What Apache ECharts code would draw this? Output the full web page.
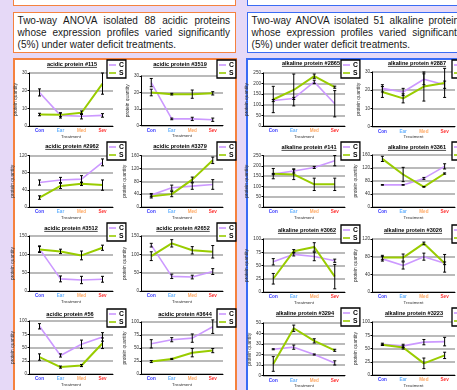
<!DOCTYPE html>
<html>
<head>
<meta charset="utf-8">
<script src="https://cdn.jsdelivr.net/npm/echarts@6/dist/echarts.min.js"></script>
<style>
  html, body { margin: 0; padding: 0; }
  body {
    width: 457px; height: 390px; overflow: hidden; position: relative;
    background: #e6d9f7; font-family: 'Liberation Sans', Arial, sans-serif;
  }
  .box { position: absolute; box-sizing: border-box; background: #fff; }
  .orange { border: 1.5px solid #f5823f; }
  .blue { border: 1.5px solid #3a6cf4; }
  .txt { top: 12px; height: 41px; width: 223px; padding: 2.4px 5px 0 3.6px; font-size: 10px; line-height: 11.6px; color: #1a1a1a; }
  .txt div { text-align: justify; text-align-last: justify; white-space: nowrap; }
  .txt div.last { text-align-last: left; }
  .panel { top: 58px; height: 360px; border-width: 2px; }
  #chart { position: absolute; left: 0; top: 0; width: 457px; height: 390px; }
</style>
</head>
<body>
<div class="box orange" style="left:13px; top:-12px; width:223px; height:18px;"></div>
<div class="box blue" style="left:247px; top:-12px; width:226px; height:18px;"></div>
<div class="box orange txt" style="left:13px;">
  <div>Two-way ANOVA isolated 88 acidic proteins</div>
  <div>whose expression profiles varied significantly</div>
  <div class="last">(5%) under water deficit treatments.</div>
</div>
<div class="box blue txt" style="left:247px;">
  <div>Two-way ANOVA isolated 51 alkaline proteins</div>
  <div>whose expression profiles varied significantly</div>
  <div class="last">(5%) under water deficit treatments.</div>
</div>
<div class="box orange panel" style="left:13px; width:224px;"></div>
<div class="box blue panel" style="left:246px; width:230px;"></div>
<div id="chart"></div>
<script>
// --- data ---
const categories = ['Con', 'Ear', 'Med', 'Sev'];
const categoryColors = ['#3333ff', '#66b2ff', '#ffaa66', '#ff3333'];
const seriesNames = ['C', 'S'];

const titles = [
  'acidic protein #115', 'acidic protein #3519',
  'acidic protein #2962', 'acidic protein #3379',
  'acidic protein #3512', 'acidic protein #2652',
  'acidic protein #56', 'acidic protein #3644',
  'alkaline protein #2865', 'alkaline protein #2887',
  'alkaline protein #141', 'alkaline protein #3361',
  'alkaline protein #3062', 'alkaline protein #3026',
  'alkaline protein #3294', 'alkaline protein #3223'
];

const yMax  = [30, 30, 120, 160, 150, 150, 100, 100, 250, 30, 250, 160, 100, 120, 50, 100];
const yStep = [10, 10, 40, 40, 50, 50, 25, 25, 50, 10, 50, 40, 25, 40, 10, 25];

const cValues = [
  [19, 6, 5.5, 6], [26, 4, 4, 3.5],
  [57, 63, 65, 104], [37, 60, 65, 70],
  [115, 33, 30, 32], [125, 40, 38, 53],
  [90, 35, 56, 70], [58, 66, 69, 91],
  [120, 130, 208, 105], [21, 19, 26, 23],
  [160, 175, 192, 225], [68, 68, 88, 125],
  [57, 71, 67, 59], [75, 60, 80, 65],
  [25, 27, 20, 12], [58, 55, 62, 63]
];
const sValues = [
  [6.5, 6.3, 7.5, 24], [20, 19, 19, 19.5],
  [22, 49, 54, 51], [33, 40, 85, 145],
  [113, 108, 97, 118], [95, 130, 111, 107],
  [32, 13, 16, 58], [24, 29, 41, 45],
  [125, 170, 235, 183], [19, 15.5, 22, 24],
  [162, 158, 110, 110], [148, 100, 62, 103],
  [25, 77, 85, 29], [78, 78, 110, 65],
  [11, 45, 33, 24], [57, 52, 22, 37]
];
const cErrors = [
  [2, 1.5, 1.5, 1], [2.5, 0.5, 1, 1],
  [6, 6, 8, 8], [5, 8, 10, 15],
  [8, 8, 10, 8], [5, 6, 5, 8],
  [5, 3, 8, 8], [8, 4, 8, 13],
  [5, 5, 8, 62], [2, 2, 3, 2],
  [3, 10, 5, 25], [1, 1, 3, 8],
  [6, 3, 8, 3], [5, 8, 8, 20],
  [0.5, 2, 0.5, 2], [2, 3, 5, 8]
];
const sErrors = [
  [0.7, 1, 1, 6], [2, 0.5, 2.5, 1],
  [4, 6, 4, 12], [5, 8, 8, 10],
  [8, 6, 12, 7], [12, 10, 10, 17],
  [6, 2, 2, 10], [2, 1, 8, 4],
  [62, 75, 10, 5], [3, 2.5, 8, 8],
  [25, 25, 30, 30], [8, 22, 1, 2],
  [10, 3, 8, 23], [5, 8, 3, 3],
  [7, 3, 2, 1], [1, 3, 10, 6]
];

// --- layout (page pixels) ---
const plotCols = [[29, 113], [141, 223], [263, 345], [372, 455]];
const plotTop    = [73, 76, 155.5, 155.5, 236, 236, 321, 322, 73, 72, 155.5, 155, 239, 239, 323, 322];
const plotBottom = [126, 125.5, 207, 207, 291, 291, 374, 374, 126, 126.5, 207, 207, 292, 292, 375.5, 375];
const titleX = [72, 180, 72, 180, 71, 183, 70, 185, 311, 417, 309, 417, 307, 413, 305, 414];
const titleY = [64, 64, 146, 146, 228, 228, 314, 314, 63, 63, 147, 147, 230, 230, 313, 313];
const legendX = [107, 217, 341, 452];
const legendY = [[60, 142, 223, 309], [60, 142, 225, 308]];

const FONT = 'Liberation Sans';
const lineColors = { C: '#cc99ff', S: '#99cc00' };

const chart = echarts.init(document.getElementById('chart'));
const ctx = document.createElement('canvas').getContext('2d');
ctx.font = 'bold 5.6px "' + FONT + '"';

const grids = [], xAxes = [], yAxes = [], series = [], legends = [], graphics = [];

function errorBars(values, errors) {
  return values.map((v, i) => [i, v - errors[i], v + errors[i]]);
}

function renderError(params, api) {
  const lo = api.coord([api.value(0), api.value(1)]);
  const hi = api.coord([api.value(0), api.value(2)]);
  const st = { stroke: '#000', lineWidth: 1 };
  return {
    type: 'group',
    children: [
      { type: 'line', shape: { x1: lo[0], y1: lo[1], x2: hi[0], y2: hi[1] }, style: st },
      { type: 'line', shape: { x1: lo[0] - 1.5, y1: lo[1], x2: lo[0] + 1.5, y2: lo[1] }, style: st },
      { type: 'line', shape: { x1: hi[0] - 1.5, y1: hi[1], x2: hi[0] + 1.5, y2: hi[1] }, style: st }
    ]
  };
}

for (let k = 0; k < 16; k++) {
  const panel = k < 8 ? 0 : 1;
  const col = k % 2;
  const row = Math.floor((k % 8) / 2);
  const [L, R] = plotCols[panel * 2 + col];

  grids.push({ left: L, top: plotTop[k], width: R - L, height: plotBottom[k] - plotTop[k] });

  xAxes.push({
    gridIndex: k,
    type: 'category',
    data: categories,
    boundaryGap: true,
    axisLine: { lineStyle: { color: '#000', width: 1 } },
    axisTick: { length: 2, lineStyle: { color: '#000' } },
    axisLabel: {
      margin: 2.5, fontSize: 4.6, fontWeight: 'bold', fontFamily: FONT,
      color: (v, i) => categoryColors[i]
    },
    name: 'Treatment', nameLocation: 'middle', nameGap: 8.5,
    nameTextStyle: { fontSize: 4.4, color: '#333', fontFamily: FONT }
  });

  yAxes.push({
    gridIndex: k,
    type: 'value',
    min: 0, max: yMax[k], interval: yStep[k],
    axisLine: { show: true, lineStyle: { color: '#000', width: 1 } },
    axisTick: { show: true, length: 1.5, lineStyle: { color: '#000' } },
    splitLine: { lineStyle: { color: '#a3a3a3', width: 1.5 } },
    axisLabel: { margin: 2, fontSize: 4.6, color: '#333', fontFamily: FONT },
    name: 'protein quantity', nameLocation: 'middle', nameGap: 8.5,
    nameTextStyle: { fontSize: 4.8, color: '#333', fontFamily: FONT }
  });

  [cValues[k], sValues[k]].forEach((vals, j) => {
    const name = seriesNames[j];
    series.push({
      name, type: 'line', xAxisIndex: k, yAxisIndex: k, data: vals,
      symbol: 'none', color: lineColors[name],
      lineStyle: { width: name === 'C' ? 1.6 : 2 }, z: 2
    });
  });
  series.push({
    name: 'err', type: 'custom', xAxisIndex: k, yAxisIndex: k,
    data: errorBars(cValues[k], cErrors[k]).concat(errorBars(sValues[k], sErrors[k])),
    encode: { x: 0, y: [1, 2] }, renderItem: renderError, z: 3, silent: true
  });

  legends.push({
    data: seriesNames, orient: 'vertical',
    left: legendX[panel * 2 + col], top: legendY[panel][row],
    backgroundColor: '#fff', borderColor: '#000', borderWidth: 1.3,
    padding: [1.5, 2], itemGap: 1, itemWidth: 7, itemHeight: 1.6, icon: 'rect',
    textStyle: { fontSize: 6.8, fontWeight: 'bold', color: '#000', fontFamily: FONT, padding: [0, 0, 0, -2] }
  });

  const w = ctx.measureText(titles[k]).width;
  graphics.push({
    type: 'text', x: titleX[k], y: titleY[k], z: 10,
    style: {
      text: titles[k], align: 'center', verticalAlign: 'middle',
      font: 'bold 5.6px "' + FONT + '"', fill: '#000'
    }
  });
  graphics.push({
    type: 'line', z: 10,
    shape: { x1: titleX[k] - w / 2, y1: titleY[k] + 3.4, x2: titleX[k] + w / 2, y2: titleY[k] + 3.4 },
    style: { stroke: '#000', lineWidth: 0.7 }
  });
}

chart.setOption({
  backgroundColor: 'transparent',
  animation: false,
  textStyle: { fontFamily: FONT },
  grid: grids,
  xAxis: xAxes,
  yAxis: yAxes,
  legend: legends,
  series: series,
  graphic: graphics
});
</script>
</body>
</html>
